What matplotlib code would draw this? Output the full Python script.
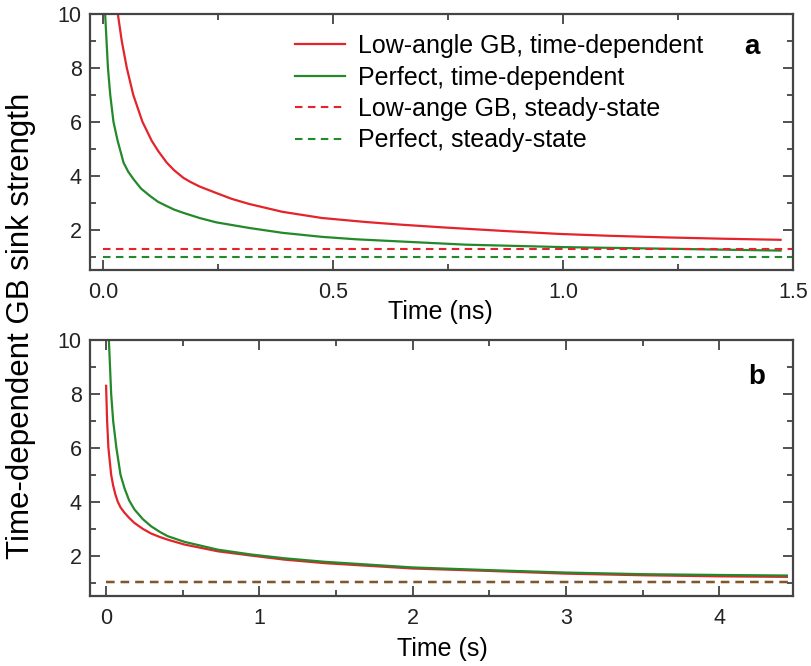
import matplotlib
matplotlib.use("Agg")
import matplotlib.pyplot as plt
from matplotlib.ticker import MultipleLocator, FormatStrFormatter

plt.rcParams['font.family'] = ['Liberation Sans', 'DejaVu Sans']

# ---- panel a (time in ns) ----
t_a_red = [0.030, 0.041, 0.052, 0.066, 0.086, 0.106, 0.12, 0.139, 0.155, 0.175, 0.19,
           0.21, 0.246, 0.28, 0.318, 0.39, 0.476, 0.572, 0.65, 0.74, 0.87, 0.99,
           1.10, 1.223, 1.35, 1.473]
v_a_red = [10.3, 9.0, 8.0, 7.0, 6.0, 5.3, 4.92, 4.48, 4.2, 3.92, 3.77,
           3.6, 3.36, 3.14, 2.95, 2.66, 2.43, 2.28, 2.18, 2.08, 1.95, 1.84,
           1.77, 1.71, 1.66, 1.62]
t_a_green = [0.004, 0.011, 0.016, 0.023, 0.032, 0.045, 0.055, 0.067, 0.083, 0.103,
             0.12, 0.139, 0.155, 0.175, 0.21, 0.246, 0.318, 0.39, 0.476, 0.55,
             0.645, 0.789, 0.999, 1.223, 1.473]
v_a_green = [10.3, 8.0, 7.0, 6.0, 5.3, 4.48, 4.15, 3.86, 3.52, 3.24,
             3.03, 2.87, 2.74, 2.62, 2.43, 2.27, 2.06, 1.88, 1.73, 1.64,
             1.56, 1.44, 1.35, 1.29, 1.22]
t_a_ss = [0.0, 1.5]
ss_a_red = 1.29
ss_a_green = 1.0

# ---- panel b (time in s) ----
t_b_red = [0.0, 0.0065, 0.015, 0.033, 0.046, 0.06, 0.076, 0.095, 0.12, 0.15, 0.185,
           0.24, 0.293, 0.35, 0.402, 0.511, 0.728, 0.946, 1.163, 1.424, 2.0, 2.5,
           3.0, 3.5, 4.0, 4.44]
v_b_red = [8.3, 7.0, 6.0, 5.0, 4.6, 4.28, 4.0, 3.78, 3.59, 3.4, 3.21,
           2.99, 2.82, 2.69, 2.59, 2.41, 2.16, 2.0, 1.85, 1.72, 1.52, 1.43,
           1.33, 1.27, 1.23, 1.21]
t_b_green = [0.016, 0.033, 0.046, 0.067, 0.094, 0.12, 0.15, 0.185, 0.24, 0.293,
             0.35, 0.402, 0.511, 0.728, 0.946, 1.163, 1.424, 2.0, 2.5, 3.0,
             3.5, 4.0, 4.44]
v_b_green = [10.3, 8.0, 7.0, 6.0, 5.0, 4.5, 4.05, 3.71, 3.35, 3.09,
             2.88, 2.72, 2.51, 2.22, 2.04, 1.90, 1.77, 1.56, 1.46, 1.37,
             1.31, 1.28, 1.26]
t_b_ss = [0.0, 4.48]
ss_b_red = 1.03
ss_b_green = 1.03

labels = ["Low-angle GB, time-dependent", "Perfect, time-dependent",
          "Low-ange GB, steady-state", "Perfect, steady-state"]

RED = '#e3242b'
GREEN = '#23892b'
DASH = (0, (3.6, 2.6))

W, H = 811, 666
fig = plt.figure(figsize=(W / 100, H / 100), dpi=100)
ax1 = fig.add_axes([90 / W, 1 - 270 / H, 703 / W, 256 / H])
ax2 = fig.add_axes([90 / W, 1 - 596 / H, 703 / W, 256 / H])

l1, = ax1.plot(t_a_red, v_a_red, color=RED, lw=1.6)
l2, = ax1.plot(t_a_green, v_a_green, color=GREEN, lw=1.6)
l3, = ax1.plot(t_a_ss, [ss_a_red] * 2, color=RED, lw=1.5, ls=DASH)
l4, = ax1.plot(t_a_ss, [ss_a_green] * 2, color=GREEN, lw=1.5, ls=DASH)

ax2.plot(t_b_ss, [ss_b_red] * 2, color=RED, lw=1.7, ls=DASH)
ax2.plot(t_b_ss, [ss_b_green] * 2, color=GREEN, lw=1.7, ls=DASH, alpha=0.55)
ax2.plot(t_b_red, v_b_red, color=RED, lw=1.6)
ax2.plot(t_b_green, v_b_green, color=GREEN, lw=1.6)

ax1.set_xlim(-0.028, 1.5)
ax2.set_xlim(-0.105, 4.48)
for ax in (ax1, ax2):
    ax.set_ylim(0.5, 10)
    ax.yaxis.set_major_locator(MultipleLocator(2))
    ax.yaxis.set_minor_locator(MultipleLocator(1))
    ax.tick_params(which='both', direction='in', top=True, right=True,
                   labelsize=15.5, colors='#333333', labelcolor='#222222', width=1.2)
    ax.tick_params(which='major', length=7, pad=6)
    ax.tick_params(which='minor', length=4)
    ax.tick_params(axis='x', which='major', pad=8.5)
    for s in ax.spines.values():
        s.set_color('#444444')
        s.set_linewidth(1.6)

ax1.xaxis.set_major_locator(MultipleLocator(0.5))
ax1.xaxis.set_minor_locator(MultipleLocator(0.25))
ax1.xaxis.set_major_formatter(FormatStrFormatter('%.1f'))
ax2.xaxis.set_major_locator(MultipleLocator(1))
ax2.xaxis.set_minor_locator(MultipleLocator(0.5))

ax1.set_xlabel("Time (ns)", fontsize=18)
ax2.set_xlabel("Time (s)", fontsize=18)
ax1.xaxis.set_label_coords((440.5 - 90) / 703, -(312 - 270) / 256)
ax2.xaxis.set_label_coords((442 - 90) / 703, -(649 - 596) / 256)
ax1.xaxis.label.set_va('center')
ax2.xaxis.label.set_va('center')

fig.text(21 / W, 1 - 326 / H, "Time-dependent GB sink strength", rotation=90,
         ha='center', va='center', fontsize=22.5)

fig.text(752 / W, 1 - 47 / H, "a", fontsize=20,
         fontweight='bold', ha='center', va='center')
fig.text(757 / W, 1 - 377 / H, "b", fontsize=20,
         fontweight='bold', ha='center', va='center')

leg = ax1.legend([l1, l2, l3, l4], labels, loc='upper left',
                 bbox_to_anchor=(295 / W, 1 - 34 / H), bbox_transform=fig.transFigure,
                 frameon=False, fontsize=18, handlelength=2.0, handletextpad=0.5,
                 labelspacing=0.3, borderpad=0, borderaxespad=0)

fig.savefig("out.png", dpi=100)
